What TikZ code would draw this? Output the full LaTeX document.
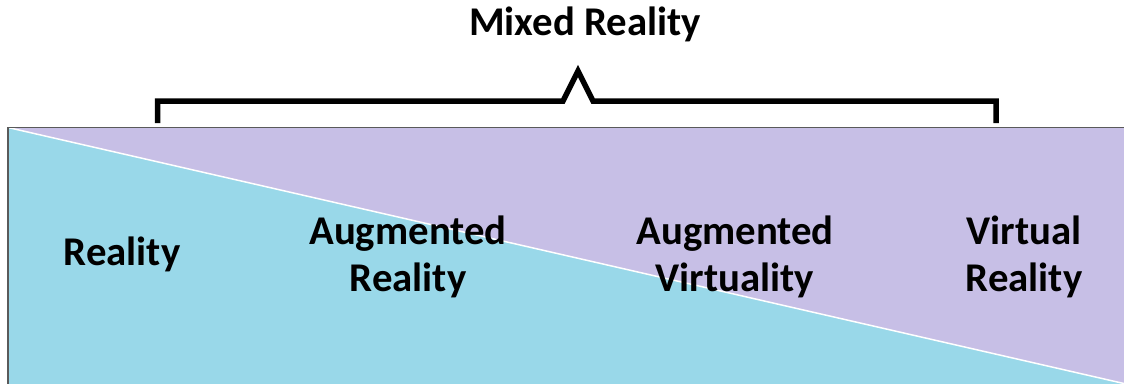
\documentclass[tikz,border=0pt]{standalone}
\usepackage{fontspec}
\setmainfont{Carlito}
\definecolor{realcyan}{RGB}{153,216,233}
\definecolor{virtlav}{RGB}{199,191,230}
\definecolor{edgegray}{RGB}{90,90,90}
\begin{document}
\begin{tikzpicture}[x=1pt,y=-1pt,
  lbl/.style={font=\fontsize{40.8}{47}\selectfont\bfseries, align=center, inner sep=0pt},
  brace/.style={line width=5.5pt, miter limit=10}]
\useasboundingbox (0,0) rectangle (1124,383);
\clip (0,0) rectangle (1124,383);
% regions
\coordinate (tl) at (8,127.5);
\coordinate (tr) at (1126,127.5);
\coordinate (br) at (1126,384);
\coordinate (bl) at (8,384);
\fill[virtlav] (tl) -- (tr) -- (br) -- cycle;
\fill[realcyan] (tl) -- (br) -- (bl) -- cycle;
\draw[white, line width=1.5pt] (tl) -- (br);
\draw[edgegray, line width=1.3pt] (bl) -- (tl) -- (tr);
% bracket
\coordinate (b1) at (157.5,123);
\coordinate (b2) at (157.5,101);
\coordinate (b3) at (563,101);
\coordinate (b4) at (578,71);
\coordinate (b5) at (593,101);
\coordinate (b6) at (996,101);
\coordinate (b7) at (996,123);
\draw[brace] (b1) -- (b2) -- (b3) -- (b4) -- (b5) -- (b6) -- (b7);
% labels
\node[lbl, anchor=base] (mr) at (585,35) {Mixed Reality};
\node[lbl, anchor=base] (r) at (122,265) {Reality};
\node[lbl] (ar) at (408,257) {Augmented\\Reality};
\node[lbl] (av) at (735,257) {Augmented\\Virtuality};
\node[lbl] (vr) at (1024,257) {Virtual\\Reality};
\end{tikzpicture}
\end{document}
